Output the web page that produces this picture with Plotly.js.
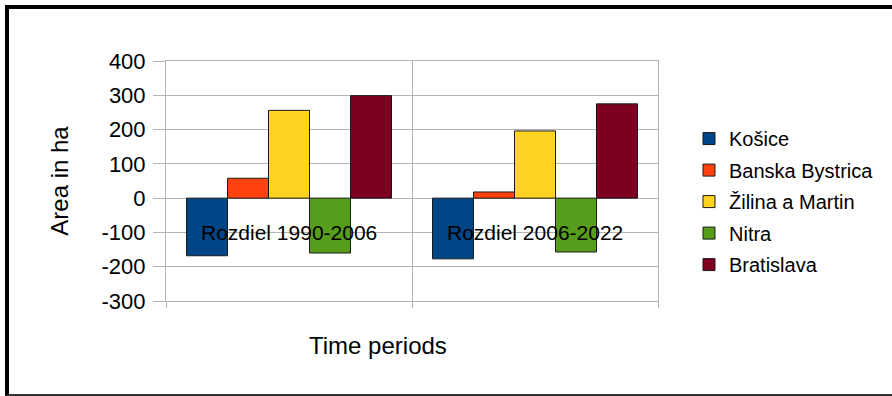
<!DOCTYPE html>
<html>
<head>
<meta charset="utf-8">
<script src="https://cdn.plot.ly/plotly-3.0.1.min.js"></script>
<style>
html,body{margin:0;padding:0;background:#fff;}
#wrap{position:relative;width:892px;height:396px;overflow:hidden;}
#chart{position:absolute;left:0;top:0;width:892px;height:396px;}
#frame{position:absolute;left:5px;top:5px;width:900px;height:385px;border-top:4px solid #000;border-left:4px solid #000;border-bottom:2px solid #333;pointer-events:none;}
</style>
</head>
<body>
<div id="wrap"><div id="chart"></div><div id="frame"></div></div>
<script>
const categories = ["Rozdiel 1990-2006", "Rozdiel 2006-2022"];
const seriesNames = ["Košice", "Banska Bystrica", "Žilina a Martin", "Nitra", "Bratislava"];
const kosice = [-168, -177];
const banskaBystrica = [58, 18];
const zilinaMartin = [256, 196];
const nitra = [-160, -157];
const bratislava = [299, 275];
const seriesValues = [kosice, banskaBystrica, zilinaMartin, nitra, bratislava];
const colors = ["#004586", "#ff420e", "#ffd320", "#579d1c", "#7e0021"];
const yTickVals = [-300, -200, -100, 0, 100, 200, 300, 400];
const yTickText = ["-300", "-200", "-100", "0", "100", "200", "300", "400"];

const FONT = "Liberation Sans, Arial, sans-serif";

const traces = seriesNames.map((name, i) => ({
  type: "bar",
  name: name,
  x: categories,
  y: seriesValues[i],
  legendgroup: "g" + i,
  marker: { color: colors[i], line: { color: "#1a1a1a", width: 1 } },
  hoverinfo: "x+y+name"
}));

const annotations = categories.map(c => ({
  x: c, y: -100, xref: "x", yref: "y",
  text: c, showarrow: false,
  font: { family: FONT, size: 21, color: "#000" },
  xanchor: "center", yanchor: "middle"
}));
annotations.push({
  x: (378 - 166) / 492, y: -44 / 240, xref: "paper", yref: "paper",
  text: "Time periods", showarrow: false,
  font: { family: FONT, size: 24, color: "#000" },
  xanchor: "center", yanchor: "middle"
});

const layout = {
  width: 892, height: 396,
  margin: { l: 166, r: 234, t: 61, b: 95 },
  paper_bgcolor: "rgba(0,0,0,0)",
  plot_bgcolor: "#fff",
  font: { family: FONT, size: 20, color: "#000" },
  barmode: "group",
  bargap: 1 / 6,
  bargroupgap: 0,
  showlegend: true,
  legend: {
    x: 1.063, xanchor: "left", y: 0.758, yanchor: "top",
    font: { family: FONT, size: 20, color: "#000" },
    tracegroupgap: 2.5, itemwidth: 30, bgcolor: "rgba(0,0,0,0)"
  },
  xaxis: {
    type: "category",
    showticklabels: false,
    tickson: "boundaries",
    ticks: "outside", ticklen: 6, tickcolor: "#b3b3b3",
    showgrid: true, gridcolor: "#b3b3b3", gridwidth: 1,
    showline: true, linecolor: "#b3b3b3", linewidth: 1, mirror: true,
    zeroline: false, fixedrange: true
  },
  yaxis: {
    range: [-300, 400],
    tickvals: yTickVals,
    ticktext: yTickText,
    ticks: "outside", ticklen: 12, tickcolor: "#b3b3b3",
    ticklabelstandoff: 3,
    tickfont: { family: FONT, size: 22, color: "#000" },
    showgrid: true, gridcolor: "#b3b3b3", gridwidth: 1,
    showline: true, linecolor: "#b3b3b3", linewidth: 1, mirror: true,
    zeroline: false,
    title: { text: "Area in ha", font: { family: FONT, size: 24, color: "#000" }, standoff: 26 },
    fixedrange: true
  },
  annotations: annotations
};

Plotly.newPlot("chart", traces, layout, { displayModeBar: false, staticPlot: true });
</script>
</body>
</html>
